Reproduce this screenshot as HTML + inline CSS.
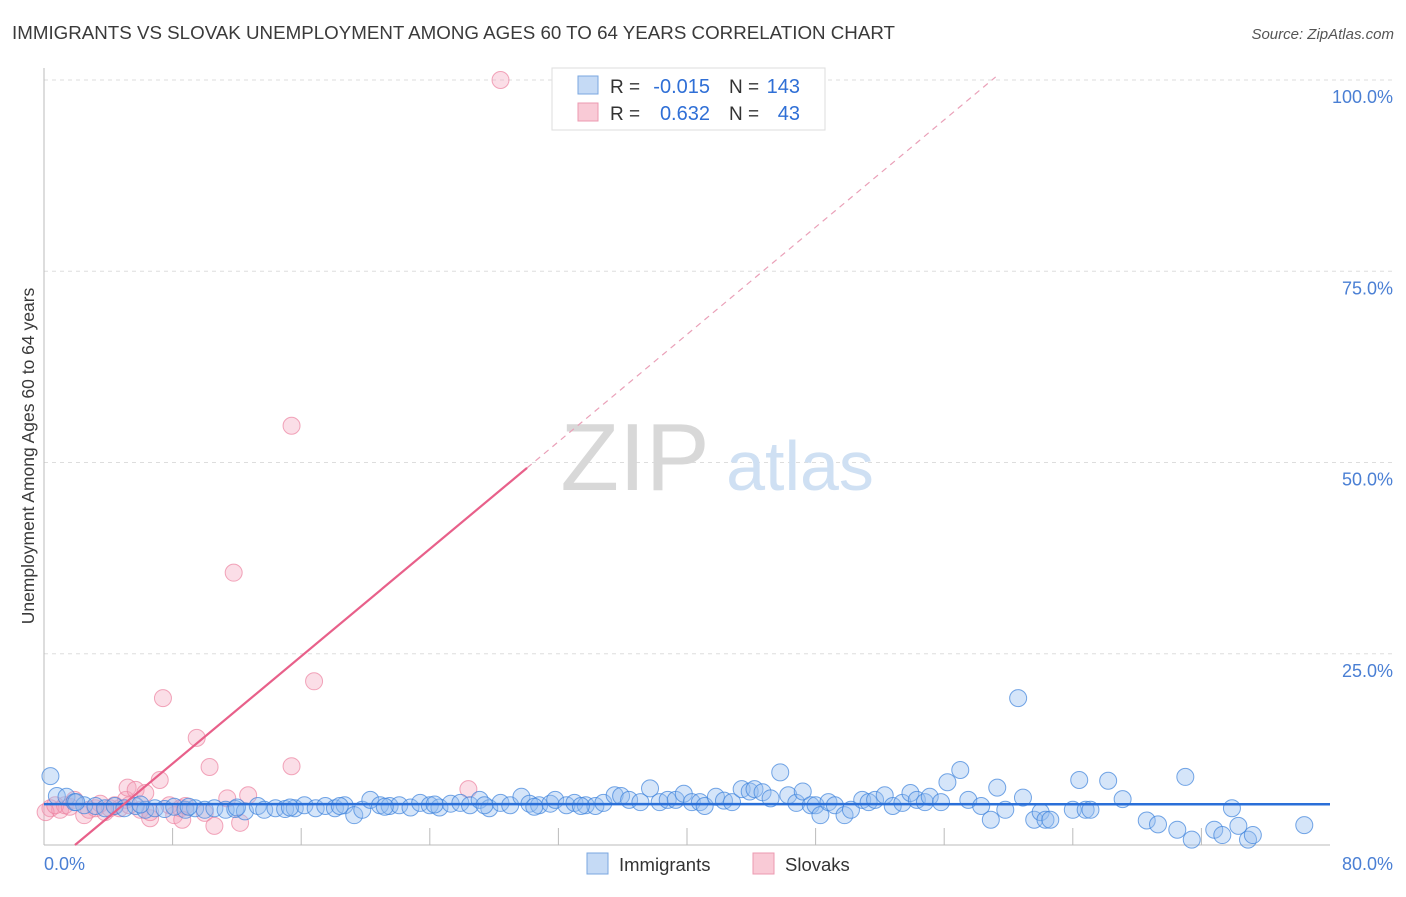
<!DOCTYPE html>
<html><head><meta charset="utf-8"><style>
body{margin:0;background:#fff;font-family:"Liberation Sans",sans-serif}
svg text{font-family:"Liberation Sans",sans-serif}
</style></head><body>
<svg width="1406" height="892">
<text x="12" y="39" font-size="18.5" fill="#3a3a3a" textLength="883" lengthAdjust="spacingAndGlyphs">IMMIGRANTS VS SLOVAK UNEMPLOYMENT AMONG AGES 60 TO 64 YEARS CORRELATION CHART</text>
<text x="1394" y="39" font-size="15" fill="#555" font-style="italic" text-anchor="end">Source: ZipAtlas.com</text>
<g id="grid"></g>
<g>
<text x="635" y="490" font-size="96" fill="#d8d8d8" text-anchor="middle" font-family="Liberation Serif">ZIP</text>
<text x="800" y="490" font-size="70" fill="#cfe0f3" text-anchor="middle">atlas</text>
</g>
<text transform="translate(34,456) rotate(-90)" font-size="17.5" fill="#3a3a3a" text-anchor="middle">Unemployment Among Ages 60 to 64 years</text>
<g id="pts"></g>
<g id="lines"></g>
<g>
<rect x="552" y="68" width="273" height="62" fill="#fff" stroke="#ddd"/>
<rect x="578" y="76" width="20" height="18" fill="#c5daf5" stroke="#7aa7e0"/>
<rect x="578" y="103" width="20" height="18" fill="#f9cad6" stroke="#ec9ab0"/>
<text x="610" y="93" font-size="19" fill="#333">R =</text>
<text x="710" y="93" font-size="20" fill="#2f6fd6" text-anchor="end">-0.015</text>
<text x="729" y="93" font-size="19" fill="#333">N =</text>
<text x="800" y="93" font-size="20" fill="#2f6fd6" text-anchor="end">143</text>
<text x="610" y="120" font-size="19" fill="#333">R =</text>
<text x="710" y="120" font-size="20" fill="#2f6fd6" text-anchor="end">0.632</text>
<text x="729" y="120" font-size="19" fill="#333">N =</text>
<text x="800" y="120" font-size="20" fill="#2f6fd6" text-anchor="end">43</text>
</g>
<g>
<rect x="587" y="853" width="21" height="21" fill="#c5daf5" stroke="#7aa7e0"/>
<text x="619" y="871" font-size="18.5" fill="#333">Immigrants</text>
<rect x="753" y="853" width="21" height="21" fill="#f9cad6" stroke="#ec9ab0"/>
<text x="785" y="871" font-size="18.5" fill="#333">Slovaks</text>
</g>
</svg>
<script>
const yTicks=[25,50,75,100];
const yTickLabels=["25.0%","50.0%","75.0%","100.0%"];
const xTicks=[8,16,24,32,40,48,56,64,72];
const blueX=[0.4,0.8,1.4,1.9,2.5,3.2,3.8,4.4,5.0,5.7,6.3,6.9,7.5,8.1,8.8,9.4,10.0,10.6,11.3,11.9,12.5,13.3,13.7,14.4,15.0,15.6,16.2,16.9,17.5,18.1,18.7,19.3,19.8,20.3,20.9,21.5,22.1,22.8,23.4,24.0,24.6,25.3,25.9,26.5,27.1,27.7,28.4,29.0,29.7,30.2,30.8,31.5,31.8,32.5,33.0,33.7,34.3,34.8,35.5,35.9,36.4,37.1,37.7,38.3,38.8,39.3,39.8,40.3,40.8,41.1,41.8,42.3,42.8,43.4,43.9,44.2,44.7,45.2,45.8,46.3,46.8,47.2,47.7,48.0,48.3,48.8,49.2,49.8,50.2,50.9,51.3,51.7,52.3,52.8,53.4,53.9,54.3,54.8,55.1,55.8,56.2,57.0,57.5,58.3,58.9,59.3,59.8,60.9,61.6,62.0,62.3,62.6,64.0,64.4,64.8,65.1,66.2,67.1,68.6,69.3,70.5,71.0,71.4,72.8,73.3,73.9,74.3,74.9,75.2,78.4,60.6,2.0,6.0,9.0,12.0,15.3,18.4,21.2,24.3,27.4,30.5,33.4];
const blueY=[9.0,6.4,6.3,5.6,5.2,5.1,4.8,5.1,4.8,5.1,4.6,4.8,4.7,5.0,4.6,4.8,4.6,4.8,4.6,4.7,4.4,5.1,4.6,4.8,4.7,4.8,5.2,4.8,5.1,4.8,5.2,3.9,4.6,5.9,5.2,5.1,5.2,4.9,5.5,5.2,4.9,5.4,5.5,5.2,5.9,4.8,5.5,5.2,6.3,5.4,5.2,5.4,5.9,5.2,5.5,5.2,5.1,5.5,6.5,6.4,5.9,5.6,7.4,5.6,5.9,5.9,6.7,5.6,5.6,5.1,6.3,5.8,5.6,7.3,7.0,7.3,6.9,6.1,9.5,6.5,5.5,7.0,5.2,5.2,3.9,5.6,5.2,3.9,4.6,5.9,5.6,5.9,6.5,5.1,5.5,6.8,5.9,5.6,6.3,5.6,8.2,9.8,5.9,5.1,3.3,7.5,4.6,6.2,3.3,4.3,3.3,3.3,4.6,8.5,4.6,4.6,8.4,6.0,3.2,2.7,2.0,8.9,0.7,2.0,1.3,4.8,2.5,0.7,1.3,2.6,19.2,5.6,5.3,5.0,4.9,4.9,5.1,5.0,5.3,5.2,5.0,5.1];
const pinkX=[0.4,1.0,1.3,1.9,2.5,3.2,3.8,4.4,5.1,5.2,5.7,6.0,6.3,6.6,7.2,7.4,7.8,8.1,8.5,8.8,9.5,10.0,10.3,10.6,11.4,11.8,12.2,12.7,15.4,15.4,16.8,26.4,28.4,0.1,0.7,3.5,4.7,5.3,6.6,8.6,4.1,2.8,1.6];
const pinkY=[4.8,4.6,5.2,5.9,3.9,4.8,4.3,5.2,5.9,7.5,7.2,4.6,6.8,3.5,8.5,19.2,5.2,3.9,4.8,5.1,14.0,4.2,10.2,2.5,6.1,35.6,2.9,6.5,54.8,10.3,21.4,7.3,100,4.3,5.2,5.4,4.8,5.2,4.3,3.3,4.8,4.6,5.0];
const blueTrend=[5.35,5.33];
const pinkTrend=[-3.38,1.753];
const X=v=>44+v*16.075, Y=v=>845-v*7.65;
const NS="http://www.w3.org/2000/svg";
function mk(tag,attrs,parent){const e=document.createElementNS(NS,tag);for(const k in attrs)e.setAttribute(k,attrs[k]);parent.appendChild(e);return e;}
const grid=document.getElementById('grid');
yTicks.forEach((t,i)=>{
 const l=mk('line',{x1:44,x2:1395,y1:Y(t),y2:Y(t),stroke:'#ddd','stroke-dasharray':'4,4'},grid);
 
 
 const tx=mk('text',{x:1393,y:Y(t)+23,'font-size':18,fill:'#4a7fd4','text-anchor':'end'},grid);
 tx.textContent=yTickLabels[i];
 
 
});
const ax=mk('line',{x1:44,x2:1330,y1:845,y2:845,stroke:'#bbb'},grid);


const ay=mk('line',{x1:44,x2:44,y1:68,y2:845,stroke:'#bbb'},grid);


xTicks.forEach(t=>{const l=mk('line',{x1:X(t),x2:X(t),y1:828,y2:845,stroke:'#bbb'},grid);
 
 });
const x0=mk('text',{x:44,y:870,'font-size':18,fill:'#4a7fd4'},grid);x0.textContent='0.0%';


const x1=mk('text',{x:1393,y:870,'font-size':18,fill:'#4a7fd4','text-anchor':'end'},grid);x1.textContent='80.0%';


const pts=document.getElementById('pts');
pinkX.forEach((v,i)=>{const c=mk('circle',{cx:X(v),cy:Y(pinkY[i]),r:8.5,fill:'rgba(244,160,185,0.35)',stroke:'rgba(236,130,160,0.7)','stroke-width':1},pts);
 
 });
blueX.forEach((v,i)=>{const c=mk('circle',{cx:X(v),cy:Y(blueY[i]),r:8.5,fill:'rgba(150,190,240,0.4)',stroke:'rgba(60,130,220,0.7)','stroke-width':1},pts);
 
 });
const lines=document.getElementById('lines');
const bl=mk('line',{x1:X(0),x2:X(80),y1:Y(blueTrend[0]),y2:Y(blueTrend[1]),stroke:'#2a6fd8','stroke-width':2.5},lines);


const pf=v=>pinkTrend[0]+pinkTrend[1]*v;
const xs=-pinkTrend[0]/pinkTrend[1], xm=30.05, xe=(100.4-pinkTrend[0])/pinkTrend[1];
const pl=mk('line',{x1:X(xs),y1:Y(pf(xs)),x2:X(xm),y2:Y(pf(xm)),stroke:'#e8608a','stroke-width':2.2},lines);


const pd=mk('line',{x1:X(xm),y1:Y(pf(xm)),x2:X(xe),y2:Y(pf(xe)),stroke:'#eaa0b8','stroke-width':1.2,'stroke-dasharray':'6,5'},lines);


</script>
</body></html>
